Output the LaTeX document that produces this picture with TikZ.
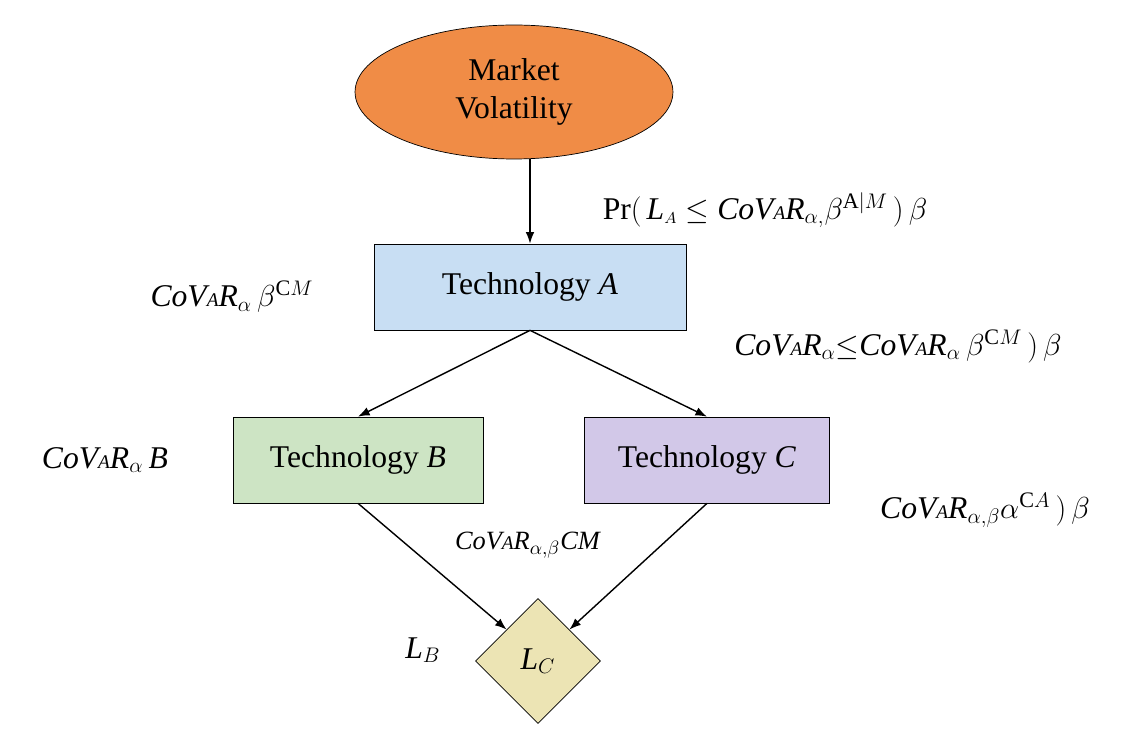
\documentclass[tikz,border=0pt]{standalone}
\usepackage{fontspec}
\setmainfont{Liberation Serif}
\usetikzlibrary{arrows.meta,shapes.geometric}
\definecolor{mktorange}{RGB}{240,140,70}
\definecolor{techblue}{RGB}{200,222,243}
\definecolor{techgreen}{RGB}{205,228,196}
\definecolor{techpurple}{RGB}{210,200,232}
\definecolor{lossyellow}{RGB}{236,228,180}
\newcommand{\cvr}{\mbox{\itshape CoV{\fontsize{11}{12}\selectfont A}R}}
\tikzset{
    market/.style={ellipse, draw=black, fill=mktorange, minimum width=6.36cm, minimum height=2.68cm, align=center, font=\fontsize{18}{22}\selectfont},
    tech/.style={rectangle, draw=black, font=\fontsize{18}{22}\selectfont, minimum height=1.72cm},
    loss/.style={diamond, draw=black, fill=lossyellow, minimum width=2.5cm, minimum height=2.5cm, inner sep=0pt, font=\fontsize{18}{22}\selectfont},
    lbl/.style={font=\fontsize{18}{22}\selectfont},
    link/.style={->, thick}
}
\begin{document}
\begin{tikzpicture}[>=Latex, x=0.02cm, y=-0.02cm]
\useasboundingbox[fill=white] (0,0) rectangle (1134,736);

% nodes
\node[market] (mkt) at (514,92) {Market\\Volatility};
\node[tech, fill=techblue, minimum width=6.24cm] (ta) at (530,287) {Technology \textit{A}};
\node[tech, fill=techgreen, minimum width=5cm] (tb) at (358,460) {Technology \textit{B}};
\node[tech, fill=techpurple, minimum width=4.9cm] (tc) at (707,460) {Technology \textit{C}};
\node[loss] (lc) at (538,661) {\textit{L}$_C$};

% labels
\node[lbl] (l1) at (765,210) {Pr$(\,$\textit{L}$_{\scriptscriptstyle A}\leq$ \cvr$_{\alpha,}\beta^{\mathrm{A}|M}\,)\,\beta$};
\node[lbl] (l2) at (232,297) {\cvr$_\alpha\,\beta^{\mathrm{C}M}$};
\node[lbl] (l3) at (898,346) {\cvr$_\alpha{\leq}$\cvr$_\alpha\,\beta^{\mathrm{C}M}\,)\,\beta$};
\node[lbl] (l4) at (105,460) {\cvr$_\alpha$\,\textit{B}};
\node[lbl] (l5) at (985,510) {\cvr$_{\alpha,\beta}\alpha^{\mathrm{C}A}\,)\,\beta$};
\node[font=\fontsize{15}{18}\selectfont] (l6) at (528,545) {\cvr$_{\alpha,\beta}$\textit{CM}};
\node[lbl] (l7) at (423,650) {\textit{L}$_B$};

% connectors
\draw[link] (mkt.south -| ta.north) -- (ta.north);
\draw[link] (ta.south) -- (tb.north);
\draw[link] (ta.south) -- (tc.north);
\draw[link] (tb.south) -- (lc.north west);
\draw[link] (tc.south) -- (lc.north east);

\end{tikzpicture}
\end{document}
